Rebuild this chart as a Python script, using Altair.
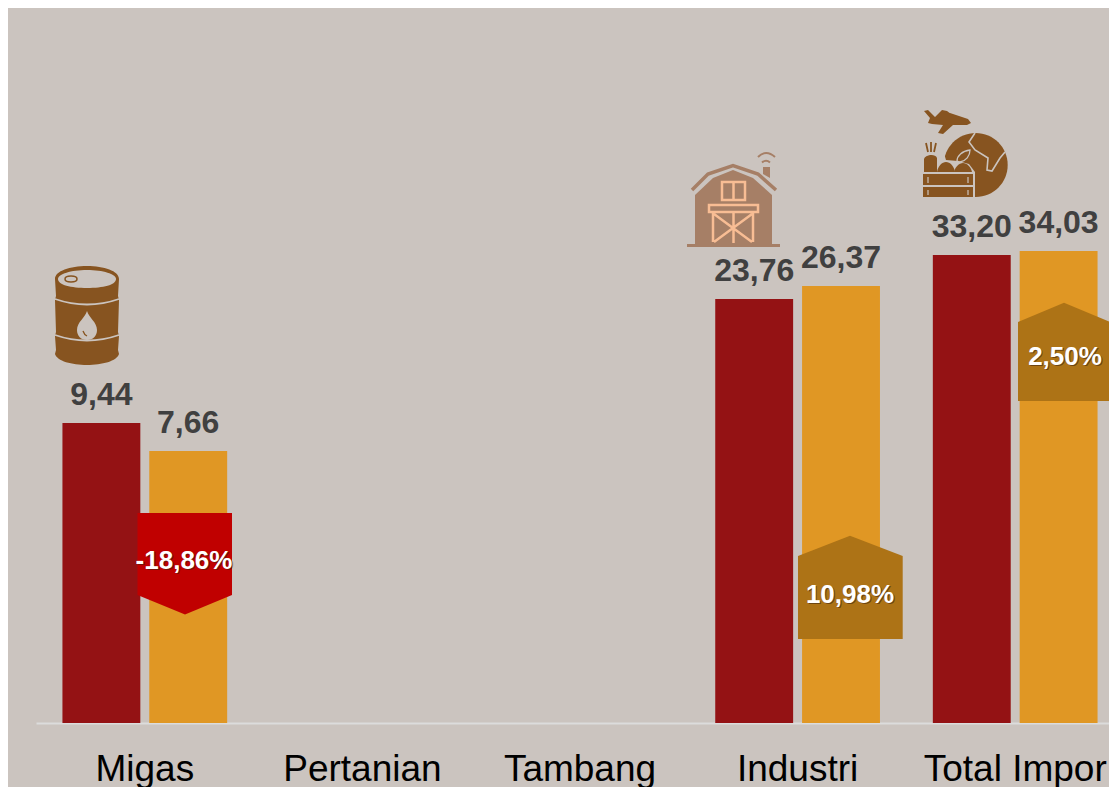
import altair as alt
import pandas as pd

categories = ["Migas", "Pertanian", "Tambang", "Industri", "Total Impor"]
series_names = ["Sebelumnya", "Terkini"]
values_prev = [9.44, None, None, 23.76, 33.20]
values_curr = [7.66, None, None, 26.37, 34.03]
labels_prev = ["9,44", "", "", "23,76", "33,20"]
labels_curr = ["7,66", "", "", "26,37", "34,03"]
badge_labels = ["-18,86%", "10,98%", "2,50%"]

BG = "#cbc4bf"
DARK = "#941214"
ORANGE = "#e09724"
FONT = "Liberation Sans"

rows = []
for c, a, b, la, lb in zip(categories, values_prev, values_curr, labels_prev, labels_curr):
    if a is not None:
        rows.append({"cat": c, "series": series_names[0], "v": a, "label": la})
        rows.append({"cat": c, "series": series_names[1], "v": b, "label": lb})
df = pd.DataFrame(rows)

# The source chart's value axis is not proportional: bar heights follow this broken scale.
Y_BOTTOM = 715
y_domain = [0, 7.66, 9.44, 23.76, 26.37, 33.20, 34.03]
y_range = [Y_BOTTOM - h for h in (0, 272, 300, 424, 437, 468, 472)]

x_enc = alt.X(
    "cat:N",
    sort=categories,
    title=None,
    scale=alt.Scale(domain=categories, range=[0, 1088], paddingInner=0.243, paddingOuter=0.1215),
    axis=alt.Axis(
        labelAngle=0, labelFont=FONT, labelFontSize=37, labelColor="#000000",
        labelBaseline="alphabetic", labelPadding=57, ticks=False, labelOverlap=False,
        labelLimit=400, domainColor="#dcdcdc", domainWidth=2, grid=False,
    ),
)
xo_enc = alt.XOffset("series:N", sort=series_names, scale=alt.Scale(domain=series_names, paddingInner=0.103))
y_enc = alt.Y("v:Q", scale=alt.Scale(domain=y_domain, range=y_range), axis=None)

bars = alt.Chart(df).mark_bar().encode(
    x=x_enc, xOffset=xo_enc, y=y_enc,
    color=alt.Color("series:N", scale=alt.Scale(domain=series_names, range=[DARK, ORANGE]), legend=None),
)
texts = alt.Chart(df).mark_text(
    font=FONT, fontSize=32, fontWeight="bold", color="#404040", baseline="alphabetic", dy=-18, align="center"
).encode(x=x_enc, xOffset=xo_enc, y=y_enc, text="label:N")

ONE = alt.Data(values=[{"k": 0}])
OX, OY = -36, -8  # page-pixel paths relative to the plot origin


def fill(path, color):
    return alt.Chart(ONE).mark_point(
        shape=path, filled=True, size=4, color=color, opacity=1, strokeWidth=0
    ).encode(x=alt.value(OX), y=alt.value(OY))


def line(path, color, width):
    return alt.Chart(ONE).mark_point(
        shape=path, filled=False, size=4, color=color, opacity=1, strokeWidth=width
    ).encode(x=alt.value(OX), y=alt.value(OY))


def badge_text(text, px, py):
    d = alt.Data(values=[{"t": text}])
    common = dict(font=FONT, fontSize=26, fontWeight="bold", align="center", baseline="middle")
    shadow = alt.Chart(d).mark_text(color="#3a2010", opacity=0.55, **common).encode(
        x=alt.value(px + OX + 1.2), y=alt.value(py + OY + 1.2), text="t:N")
    main = alt.Chart(d).mark_text(color="#ffffff", **common).encode(
        x=alt.value(px + OX), y=alt.value(py + OY), text="t:N")
    return [shadow, main]


BROWN = "#875420"
BARN = "#a67f66"
PEACH = "#f8bd94"

barrel = [
    fill("M55 279C55 271 70 266 87 266C104 266 119 271 119 279L118 296L119 300L118 332L119 336L118 350L119 354C117 361 102 365 87 365C72 365 57 361 55 354L56 350L55 336L56 332L55 300L56 296Z", BROWN),
    fill("M58 279C58 274 71 270 87 270C103 270 116 274 116 279C116 285 103 288 87 288C71 288 58 285 58 279Z", BG),
    line("M65 279C65 277 68 276 71 276C74 276 77 277 77 279C77 281 74 282 71 282C68 282 65 281 65 279Z", BROWN, 1.5),
    line("M55 299Q87 310 119 299", BG, 1.8),
    line("M55 335Q87 346 119 335", BG, 1.8),
    fill("M87 311C89 318 97 322 97 330C97 336 93 340 87 340C81 340 77 336 77 330C77 322 85 318 87 311Z", BG),
    line("M83 331C84 334 85 335 87 336", BROWN, 1.3),
]

barn = [
    fill("M695 195L713 178L733 170L753 178L772 195L772 245L695 245Z", BARN),
    line("M692 190L708 174L733 165.5L758 174L776 190", BARN, 3.5),
    line("M687 245.5L780 245.5", BARN, 3),
    fill("M763 167L770 167L770 178L763 174Z", BARN),
    line("M758 157Q766 149 775 157", BARN, 2),
    line("M762 162.5Q766 159 770 162.5", BARN, 2),
    line("M722 182H745V200H722ZM733.5 182V200", PEACH, 2.5),
    line("M709 205H758V212H709ZM713 212V242M753 212V242M733.5 212V243M714 214L752 242M752 214L714 242", PEACH, 2.5),
]

globe = [
    fill("M944 111L968 119L971 123L967 125L953 125L943 134L938 133L943 125L932 124L928 123L930 118L924 111L928 110L935 117L942 110L947 111L955 117Z", BROWN),
    fill("M975.7 133A32 32 0 1 1 975.7 197A32 32 0 1 1 975.7 133Z", BROWN),
    line("M975 133L969 142L975 150L988 158L987 170L992 171L1000 158L1005 152", BG, 1.6),
    fill("M918 150H943L946 160L958 161L969 164L975 172V199H918Z", BG),
    fill("M923 174H973V185H923ZM923 187H973V197H923Z", BROWN),
    line("M928 177V183M968 177V183M928 190V195M968 190V195", BG, 1.2),
    fill("M924 159C925 155 935 153 937 158L937 172H924Z", BROWN),
    line("M926 143L928 152M931 142V152M936 143L934 152", BROWN, 1.8),
    fill("M937 172C938 166 942 162 946 162C950 162 954 166 955 172Z", BROWN),
    fill("M954 172C955 167 959 163 963 163C967 163 971 167 972 172Z", BROWN),
    line("M957 161C957 156 962 151 970 150C970 156 966 161 960 162Z", BG, 1.3),
]

badges = [
    fill("M137.5 513H232V595L185 614.5L137.5 595Z", "#c00000"),
    fill("M798 556L850 535.7L902.7 556V639H798Z", "#ad7316"),
    fill("M1018 322L1064 302.7L1110 322V401H1018Z", "#ad7316"),
]

btexts = (
    badge_text(badge_labels[0], 184, 561)
    + badge_text(badge_labels[1], 850, 595)
    + badge_text(badge_labels[2], 1065, 357)
)

chart = alt.layer(bars, texts, *barrel, *barn, *globe, *badges, *btexts).properties(
    width=1073,
    height=Y_BOTTOM,
    padding={"left": 28, "top": 0, "right": 0, "bottom": 64},
    autosize=alt.AutoSizeParams(type="none"),
    background=BG,
).configure_view(stroke=None)

chart.save("out.html", embed_options={"renderer": "svg", "actions": False})
